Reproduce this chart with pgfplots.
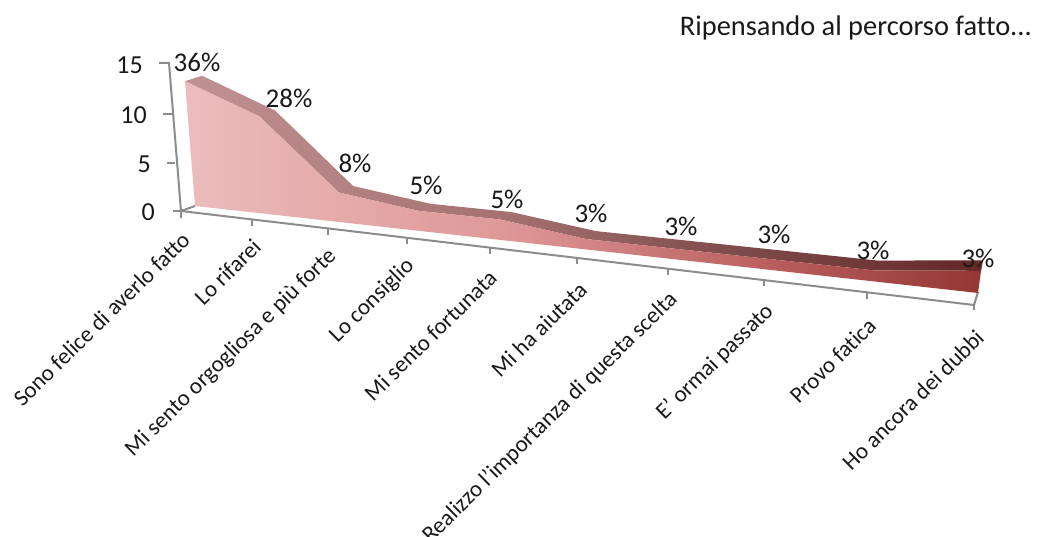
\documentclass[border=0pt]{standalone}
\usepackage{pgfplots}
\usepackage{pgfplotstable}
\usepackage{fontspec}
\setmainfont[Ligatures=NoCommon]{Carlito}
\pgfplotsset{compat=1.18}
\pgfdeclarehorizontalshading{frontsh}{100bp}{rgb(0bp)=(0.925,0.737,0.737); rgb(25bp)=(0.925,0.737,0.737); rgb(45bp)=(0.871,0.596,0.596); rgb(60bp)=(0.745,0.392,0.392); rgb(75bp)=(0.58,0.212,0.204); rgb(100bp)=(0.58,0.212,0.204)}
\pgfdeclarehorizontalshading{topsh}{100bp}{rgb(0bp)=(0.753,0.573,0.573); rgb(25bp)=(0.753,0.573,0.573); rgb(45bp)=(0.647,0.439,0.439); rgb(60bp)=(0.49,0.294,0.294); rgb(75bp)=(0.392,0.157,0.149); rgb(100bp)=(0.392,0.157,0.149)}
% position along the front edge, level (0/1); rows run round the polygon
\pgfplotstableread{
pos level val
195 1 13
265 1 10
340 1 3
418 1 2
500 1 2
586 1 1
676 1 1
771 1 1
873 1 1
978 1 2
978 0 2
873 0 1
771 0 1
676 0 1
586 0 1
500 0 2
418 0 2
340 0 3
265 0 10
195 0 13
}\areadata
\newcommand\T{((\thisrow{pos}-195)/783)}
\newcommand\Lean{(-0.77+2.3*\T)}
\newcommand\Sc{(9.6+1.5*\T)}
\newcommand\Base{(206+87*\T)}
\definecolor{axgray}{RGB}{140,140,140}
\definecolor{txt}{RGB}{25,25,25}
\begin{document}
\begin{tikzpicture}[x=1pt,y=1pt]
\path[use as bounding box] (0,0) rectangle (1048pt,537pt);
\clip (0,0) rectangle (1048pt,537pt);
\begin{axis}[at={(0,0)},anchor=south west,x=1pt,y=1pt,xmin=0,xmax=1048,ymin=0,ymax=537,
  y dir=reverse,hide axis,clip=false]
% axes
\addplot[axgray,line width=2pt] coordinates {(159,63)(169,63)(181,211)(974,305)(978,292)};
\addplot[axgray,line width=2pt] coordinates {(181,211)(195,206)};
\addplot[axgray,line width=2pt] coordinates {(163,114)(172,114)};
\addplot[axgray,line width=2pt] coordinates {(167,163)(175,163)};
\addplot[axgray,line width=2pt] coordinates {(173,211)(181,211)};
\addplot[axgray,line width=1.8pt] coordinates {(181,211)(181,218)};
\addplot[axgray,line width=1.8pt] coordinates {(252,220)(252,226)};
\addplot[axgray,line width=1.8pt] coordinates {(328,229)(328,235)};
\addplot[axgray,line width=1.8pt] coordinates {(407,238)(407,244)};
\addplot[axgray,line width=1.8pt] coordinates {(490,248)(490,254)};
\addplot[axgray,line width=1.8pt] coordinates {(577,258)(577,264)};
\addplot[axgray,line width=1.8pt] coordinates {(668,269)(668,275)};
\addplot[axgray,line width=1.8pt] coordinates {(764,280)(764,286)};
\addplot[axgray,line width=1.8pt] coordinates {(867,293)(867,299)};
\addplot[axgray,line width=1.8pt] coordinates {(974,305)(974,310)};
% top band
\addplot[draw=none,shading=topsh] 
  table[x expr={\thisrow{pos}+\thisrow{val}*\Lean+\thisrow{level}*(17-15*\T)},
        y expr={\Base-\thisrow{val}*\Sc-\thisrow{level}*(5.5+5*\T)}] {\areadata} -- cycle;
% front face
\addplot[draw=none,shading=frontsh]
  table[x expr={\thisrow{pos}+\thisrow{level}*\thisrow{val}*\Lean},
        y expr={\Base-\thisrow{level}*\thisrow{val}*\Sc}] {\areadata} -- cycle;
\tikzset{vl/.style={anchor=east,text=txt,font=\fontsize{26}{28}\selectfont,inner sep=0pt},
         dl/.style={text=txt,font=\fontsize{27}{30}\selectfont},
         cl/.style={anchor=east,rotate=44.5,text=txt,font=\fontsize{23}{26}\selectfont,inner sep=0pt}}
\node[vl] at (axis cs:143,65) {15};
\node[vl] at (axis cs:147,115) {10};
\node[vl] at (axis cs:151,164) {5};
\node[vl] at (axis cs:155,212) {0};
% data labels
\node[dl] at (axis cs:197,62) {36\%};
\node[dl] at (axis cs:289,98) {28\%};
\node[dl] at (axis cs:355,163) {8\%};
\node[dl] at (axis cs:426,185) {5\%};
\node[dl] at (axis cs:507,199) {5\%};
\node[dl] at (axis cs:591,213) {3\%};
\node[dl] at (axis cs:681,226) {3\%};
\node[dl] at (axis cs:774,234) {3\%};
\node[dl] at (axis cs:873,250) {3\%};
\node[dl] at (axis cs:978,258) {3\%};
% category labels
\node[cl] at (axis cs:186,236) {Sono felice di averlo fatto};
\node[cl] at (axis cs:257,243) {Lo rifarei};
\node[cl] at (axis cs:333,253) {Mi sento orgogliosa e più forte};
\node[cl] at (axis cs:411,263) {Lo consiglio};
\node[cl] at (axis cs:493,274) {Mi sento fortunata};
\node[cl] at (axis cs:583,286) {Mi ha aiutata};
\node[cl] at (axis cs:674,296) {Realizzo l'importanza di questa scelta};
\node[cl] at (axis cs:770,308) {E' ormai passato};
\node[cl] at (axis cs:872,322) {Provo fatica};
\node[cl] at (axis cs:980,334) {Ho ancora dei dubbi};
\node[anchor=east,text=txt,inner sep=0pt,font=\fontsize{28.4}{30}\selectfont] at (axis cs:1032,28) {Ripensando al percorso fatto...};
\end{axis}
\end{tikzpicture}
\end{document}
